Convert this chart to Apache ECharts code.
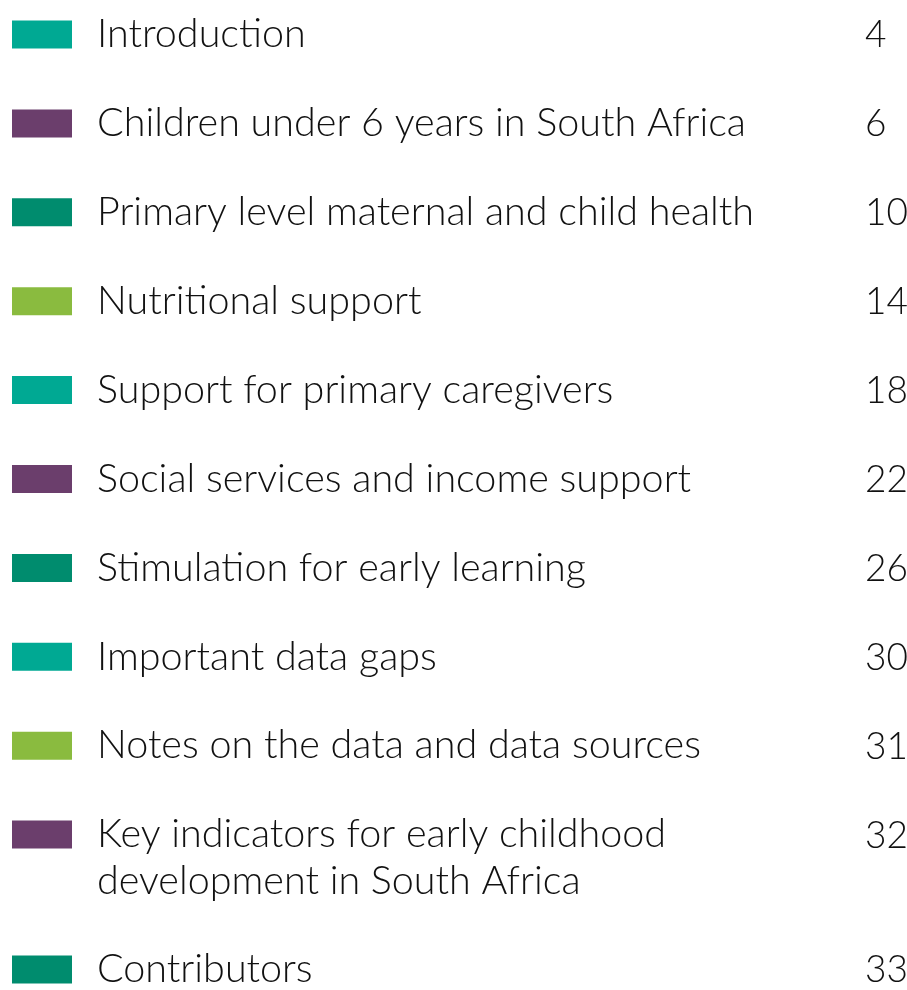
<!DOCTYPE html>
<html>
<head>
<meta charset="utf-8">
<script src="https://cdn.jsdelivr.net/npm/echarts@6/dist/echarts.min.js"></script>
<style>
html,body{margin:0;padding:0;background:#ffffff;}
#chart{width:907px;height:990px;}
</style>
</head>
<body>
<div id="chart"></div>
<script>
// ---- data ----
var titles = [
  'Introduction',
  'Children under 6 years in South Africa',
  'Primary level maternal and child health',
  'Nutritional support',
  'Support for primary caregivers',
  'Social services and income support',
  'Stimulation for early learning',
  'Important data gaps',
  'Notes on the data and data sources',
  'Key indicators for early childhood\ndevelopment in South Africa',
  'Contributors'
];
var pages = [4, 6, 10, 14, 18, 22, 26, 30, 31, 32, 33];
var sectionKeys = ['teal', 'purple', 'green', 'lime', 'teal', 'purple', 'green', 'teal', 'lime', 'purple', 'green'];

// ---- styles ----
var palette = { teal: '#00A993', purple: '#6B3E6C', green: '#008C6E', lime: '#8ABB3F' };
var ROW = 88.9;          // px between row starts
var LINE = 47;           // px between wrapped lines
var FONT = 'Lato, "Open Sans", sans-serif';
var TITLE_FONT = '300 39.5px ' + FONT;
var PAGE_FONT = '300 37px ' + FONT;

// row positions in row units (extra wrapped lines push later rows down)
var rowPos = [];
var acc = 0;
for (var i = 0; i < titles.length; i++) {
  rowPos.push(acc);
  var lines = titles[i].split('\n').length;
  acc += 1 + (lines - 1) * 46 / ROW;
}
var data = titles.map(function (t, i) { return [i, rowPos[i]]; });

var chart = echarts.init(document.getElementById('chart'), null, { renderer: 'canvas' });
chart.setOption({
  backgroundColor: '#ffffff',
  animation: false,
  grid: { left: 0, right: 0, top: 34.5, bottom: 990 - 34.5 - rowPos[rowPos.length - 1] * ROW },
  xAxis: { type: 'value', min: 0, max: 907, show: false },
  yAxis: { type: 'value', min: 0, max: rowPos[rowPos.length - 1], inverse: true, show: false },
  series: [{
    type: 'custom',
    data: data,
    renderItem: function (params, api) {
      var idx = api.value(0);
      var p = api.coord([0, api.value(1)]);
      var y = p[1];
      var children = [{
        type: 'rect',
        shape: { x: p[0] + 12, y: y - 14, width: 60, height: 28 },
        style: { fill: palette[sectionKeys[idx]] }
      }];
      titles[idx].split('\n').forEach(function (ln, j) {
        children.push({
          type: 'text',
          x: p[0] + 97, y: y + j * LINE,
          style: { text: ln, fill: '#111111', font: TITLE_FONT, textAlign: 'left', textVerticalAlign: 'middle' }
        });
      });
      children.push({
        type: 'text',
        x: p[0] + 865, y: y + 1,
        style: { text: String(pages[idx]), fill: '#111111', font: PAGE_FONT, textAlign: 'left', textVerticalAlign: 'middle' }
      });
      return { type: 'group', children: children };
    }
  }]
});
</script>
</body>
</html>
